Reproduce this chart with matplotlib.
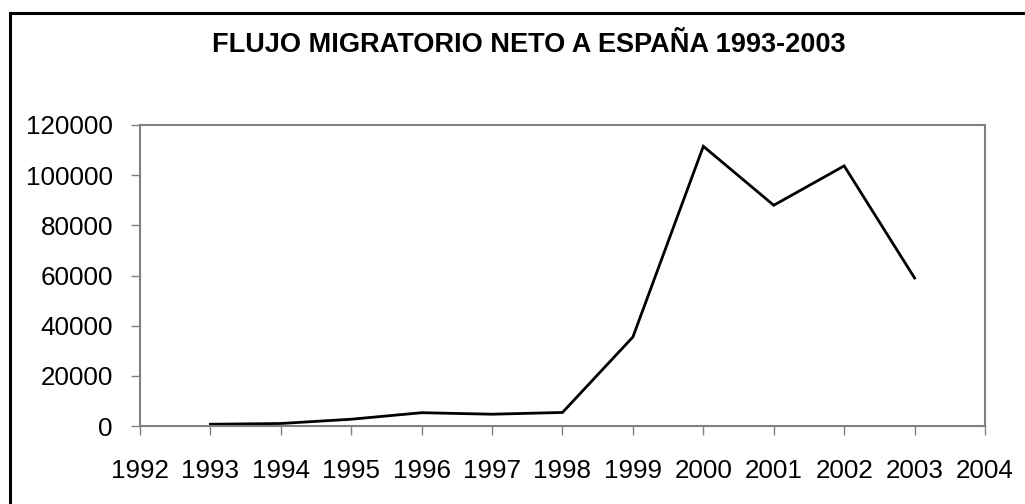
import matplotlib
matplotlib.use('Agg')
import matplotlib.pyplot as plt
from matplotlib.lines import Line2D

plt.rcParams['font.family'] = ['Liberation Sans', 'DejaVu Sans']

years = [1993, 1994, 1995, 1996, 1997, 1998, 1999, 2000, 2001, 2002, 2003]
flujo = [700, 1000, 2700, 5300, 4700, 5400, 35500, 111500, 88000, 103700, 59000]
x_ticks = list(range(1992, 2005))
y_ticks = [0, 20000, 40000, 60000, 80000, 100000, 120000]
title = 'FLUJO MIGRATORIO NETO A ESPAÑA 1993-2003'

fig = plt.figure(figsize=(10.25, 5.04), dpi=100)
ax = fig.add_axes([140 / 1025, 1 - 426 / 504, 845 / 1025, 301 / 504])

ax.plot(years, flujo, color='black', linewidth=2.0, solid_joinstyle='miter')

ax.set_xlim(1992, 2004)
ax.set_ylim(0, 120000)
ax.set_xticks(x_ticks)
ax.set_xticklabels([str(y) for y in x_ticks])
ax.set_yticks(y_ticks)
ax.set_yticklabels([str(v) for v in y_ticks])

for s in ax.spines.values():
    s.set_color('#808080')
    s.set_linewidth(1.5)
ax.tick_params(axis='both', direction='out', length=6.5, width=1,
               color='#808080', labelsize=18.7, labelcolor='black')
ax.tick_params(axis='x', pad=17.5)
ax.tick_params(axis='y', pad=13)

fig.text(529 / 1025, 1 - 45 / 504, title, ha='center', va='center',
         fontsize=19.5, fontweight='bold')

# outer chart border (only top and left edges visible in the crop)
fig.add_artist(Line2D([9.5 / 1025, 9.5 / 1025], [0, 1 - 13 / 504],
                      transform=fig.transFigure, color='black', linewidth=2.2))
fig.add_artist(Line2D([9.5 / 1025, 1], [1 - 13 / 504, 1 - 13 / 504],
                      transform=fig.transFigure, color='black', linewidth=2.2))

fig.savefig('out.png', dpi=100)
